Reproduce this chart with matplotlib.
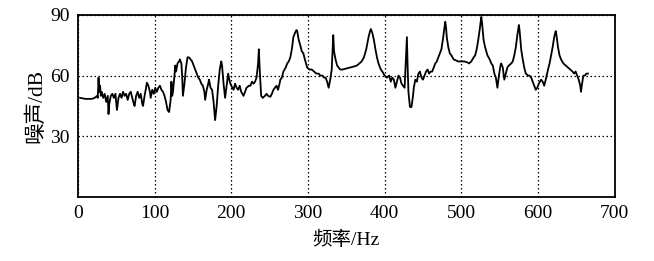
import matplotlib
matplotlib.use("Agg")
import matplotlib.pyplot as plt

plt.rcParams['font.family'] = ['Liberation Serif', 'Noto Sans CJK SC', 'DejaVu Sans']

freq_hz = [3, 10, 18, 22, 25, 26, 27, 28, 29, 30, 31, 33, 35, 37, 39, 40, 41, 43, 45, 47, 49, 51, 53, 55, 57,
           59, 61, 63, 65, 67, 69, 71, 73, 74, 76, 78, 80, 82, 84, 85, 87, 89, 90, 92, 94, 95, 97, 99, 101,
           103, 105, 107, 109, 111, 113, 115, 117, 119, 121, 122, 123, 124, 126, 127, 128, 130, 132, 133,
           135, 136, 137, 139, 141, 143, 145, 147, 149, 151, 153, 155, 157, 159, 161, 163, 165, 166, 168,
           170, 171, 173, 175, 177, 179, 181, 183, 185, 187, 188, 190, 192, 194, 196, 198, 200, 203, 205,
           207, 209, 211, 213, 216, 218, 220, 223, 225, 227, 229, 231, 233, 235, 236, 237, 239, 241, 244,
           246, 248, 251, 253, 255, 257, 259, 261, 263, 264, 266, 268, 271, 273, 275, 277, 279, 281, 283,
           285, 286, 288, 290, 292, 294, 296, 299, 302, 305, 308, 311, 314, 316, 319, 321, 323, 325, 327,
           329, 331, 333, 334, 336, 338, 340, 342, 345, 350, 355, 360, 364, 367, 370, 373, 376, 379, 381,
           382, 384, 386, 388, 390, 392, 395, 397, 400, 403, 406, 408, 410, 412, 414, 416, 418, 420, 422,
           424, 426, 428, 429, 430, 431, 433, 435, 437, 438, 440, 442, 444, 446, 448, 450, 452, 454, 456,
           458, 460, 462, 464, 466, 468, 470, 472, 474, 476, 478, 479, 480, 481, 483, 485, 487, 490, 493,
           496, 500, 504, 508, 510, 513, 516, 518, 520, 522, 524, 526, 527, 529, 531, 534, 537, 539, 541,
           543, 545, 547, 549, 551, 552, 554, 556, 558, 560, 562, 565, 567, 569, 571, 573, 575, 576, 578,
           580, 582, 584, 587, 589, 591, 593, 595, 597, 599, 601, 604, 606, 608, 610, 613, 615, 617, 619,
           621, 623, 624, 626, 628, 630, 633, 636, 639, 642, 645, 647, 649, 651, 653, 655, 656, 657, 659,
           661, 663, 665]

noise_db = [49, 48.5, 48.5, 49, 50, 49, 59, 52, 55, 50, 52, 49, 51, 47, 50, 41, 46, 50, 51, 49, 51, 43, 49, 51, 49,
            52, 50, 51, 48, 51, 52, 49, 46, 45, 50, 52, 49, 51, 46, 45, 50, 54, 56.5, 55, 52, 49, 53, 51, 54,
            52, 54, 55, 53, 52, 50, 47, 43, 42, 48, 57, 50, 52, 60, 65, 62, 66, 67, 68,
            66, 60, 50, 56, 64, 69, 69, 68, 67, 65, 63, 61, 59, 58, 56, 55, 52, 48, 53,
            56, 58, 54, 53, 47, 38, 45, 55, 63, 67, 65, 56, 49, 55, 61, 57, 55, 53, 56,
            54, 53, 55, 52, 50, 52, 54, 55, 55, 57, 56, 57, 59, 66, 73, 64, 50, 49, 50,
            51, 50, 49.5, 51, 53, 54, 55, 53, 56, 58, 59, 62, 64, 66, 67, 69, 73, 79, 81,
            82.5, 82, 77.6, 75, 72, 71, 68, 64, 63, 63, 62, 61, 61, 60, 60, 59, 59, 57, 54,
            58, 63, 80, 72, 68, 65, 64, 63, 63, 63.5, 64, 64.5, 65, 66, 67, 69, 73, 79, 82,
            83, 81, 77.6, 73, 69, 66, 63, 62, 60, 59, 60, 57, 59, 58, 54, 57, 60, 59, 56,
            55, 54, 70, 79, 64, 52, 44.5, 44.5, 50, 54, 58, 57, 61, 62, 59, 58, 60, 62, 63,
            61, 62, 62, 64, 66, 67, 69, 71, 73, 78, 84, 86.6, 84, 79, 74, 71, 70, 68, 67.5,
            67, 67, 67, 66.5, 66, 67, 69, 70, 73, 77.6, 83, 89, 86, 77.6, 74, 70, 68, 66, 65,
            61, 59, 54, 60, 65, 66, 64, 58, 61, 64, 65, 66, 67, 70, 74, 80, 85, 82, 73,
            68, 64, 61, 60, 60, 59, 57, 55, 53, 54, 56, 58, 57, 55, 58, 63, 66, 70, 74,
            79, 82, 80, 74, 70, 68, 66, 65, 64, 63, 62, 61, 62, 60, 58, 55, 52, 55, 60,
            60, 61, 61]

x_ticks = [0, 100, 200, 300, 400, 500, 600, 700]
y_ticks = [30, 60, 90]

fig = plt.figure(figsize=(6.54, 2.61), dpi=100)
ax = fig.add_axes([0.119, 0.245, 0.821, 0.698])
ax.plot(freq_hz, noise_db, color='black', linewidth=1.3)
ax.set_xlim(0, 700)
ax.set_ylim(0, 90)
ax.set_xticks(x_ticks)
ax.set_yticks(y_ticks)
ax.grid(True, linestyle=(0, (1.2, 2.0)), color='black', linewidth=0.9)
ax.tick_params(length=0, labelsize=14, pad=6)
for s in ax.spines.values():
    s.set_linewidth(1.3)
ax.set_xlabel('频率/Hz', fontsize=14, labelpad=6)
ax.set_ylabel('噪声/dB', fontsize=15.5, labelpad=3)
fig.savefig('out.png', dpi=100)
